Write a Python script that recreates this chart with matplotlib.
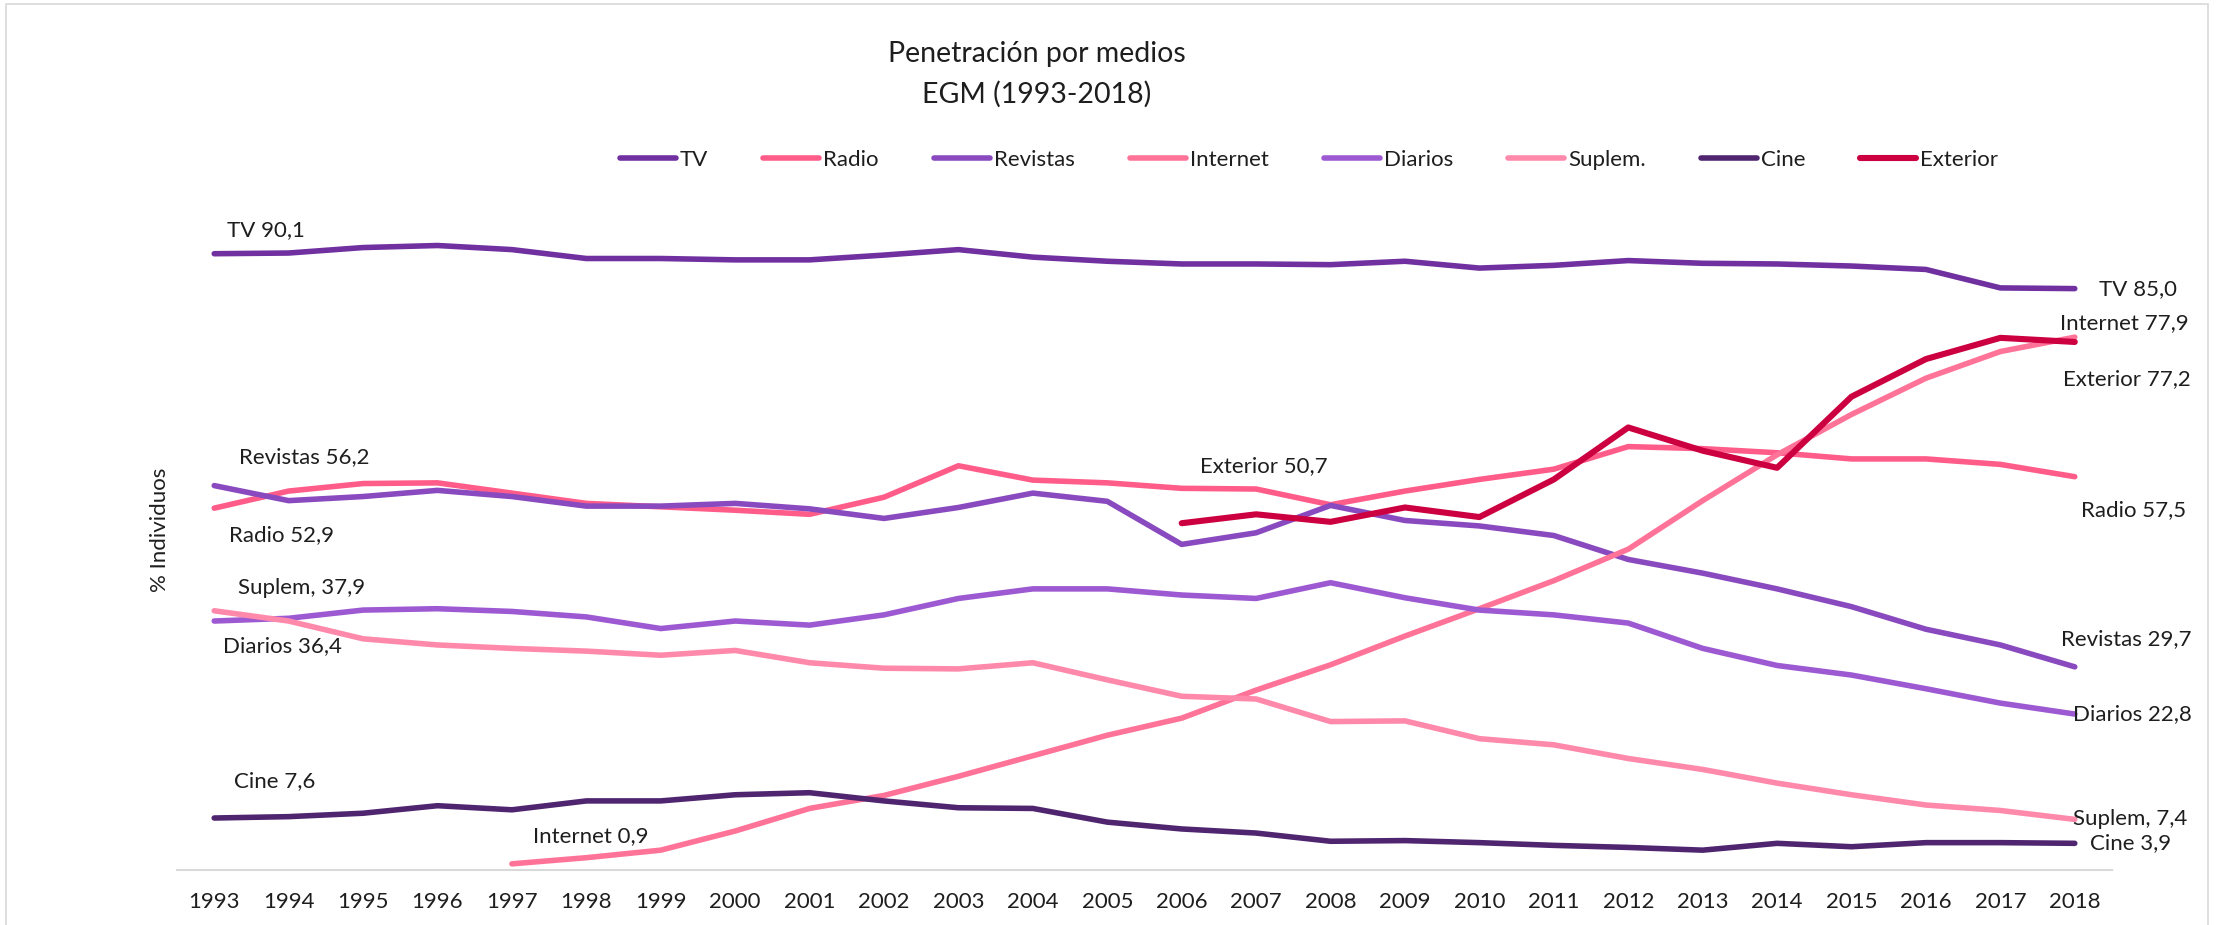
import numpy as np
import matplotlib
matplotlib.use("Agg")
import matplotlib.pyplot as plt
from matplotlib.patches import Rectangle
from matplotlib.lines import Line2D

plt.rcParams['font.family'] = ['Lato', 'DejaVu Sans']

nan = np.nan
years = list(range(1993, 2019))

tv = [90.1, 90.2, 91.0, 91.3, 90.7, 89.4, 89.4, 89.2, 89.2, 89.9, 90.7, 89.6, 89.0,
      88.6, 88.6, 88.5, 89.0, 88.0, 88.4, 89.1, 88.7, 88.6, 88.3, 87.8, 85.1, 85.0]
radio = [52.9, 55.4, 56.5, 56.6, 55.1, 53.6, 53.1, 52.6, 52.0, 54.5, 59.1, 57.0, 56.6,
         55.8, 55.7, 53.4, 55.4, 57.1, 58.6, 61.9, 61.6, 61.0, 60.1, 60.1, 59.3, 57.5]
revistas = [56.2, 54.0, 54.6, 55.5, 54.6, 53.2, 53.2, 53.6, 52.8, 51.4, 53.0, 55.1, 53.9,
            47.6, 49.3, 53.3, 51.1, 50.3, 48.9, 45.4, 43.4, 41.1, 38.5, 35.2, 32.9, 29.7]
internet = [nan, nan, nan, nan, 0.9, 1.8, 2.9, 5.7, 9.0, 10.9, 13.7, 16.7, 19.7,
            22.2, 26.3, 30.0, 34.2, 38.2, 42.3, 46.9, 54.0, 60.7, 66.6, 71.9, 75.8, 77.9]
diarios = [36.4, 36.8, 38.0, 38.2, 37.8, 37.0, 35.3, 36.4, 35.8, 37.3, 39.7, 41.1, 41.1,
           40.2, 39.7, 42.0, 39.8, 38.0, 37.3, 36.1, 32.4, 29.9, 28.5, 26.5, 24.4, 22.8]
suplem = [37.9, 36.4, 33.8, 32.9, 32.4, 32.0, 31.4, 32.1, 30.3, 29.5, 29.4, 30.3, 27.8,
          25.4, 25.0, 21.7, 21.8, 19.2, 18.3, 16.3, 14.7, 12.7, 11.0, 9.5, 8.7, 7.4]
cine = [7.6, 7.8, 8.3, 9.4, 8.8, 10.1, 10.1, 11.0, 11.3, 10.1, 9.1, 9.0, 7.0,
        6.0, 5.4, 4.2, 4.3, 4.0, 3.6, 3.3, 2.9, 3.9, 3.4, 4.0, 4.0, 3.9]
exterior = [nan] * 13 + [50.7, 52.0, 50.9, 53.0, 51.6, 57.1, 64.7, 61.3, 58.8, 69.2, 74.7, 77.8, 77.2]

series_names = ["TV", "Radio", "Revistas", "Internet", "Diarios", "Suplem.", "Cine", "Exterior"]
series_values = [tv, radio, revistas, internet, diarios, suplem, cine, exterior]
colors = ["#7030A0", "#FF5C8A", "#8A4ABF", "#FF7399", "#9D59D2", "#FF89AB", "#4F2570", "#CC0040"]
widths = [4.0, 4.0, 4.0, 4.0, 4.0, 4.0, 4.0, 4.4]

# label placement (start label, end label): (x in data units, y in data units)
start_pos = {"TV": (1993.17, 93.6), "Radio": (1993.2, 49.0), "Revistas": (1993.33, 60.3),
             "Internet": (1997.29, 4.9), "Diarios": (1993.12, 32.7), "Suplem.": (1993.32, 41.3),
             "Cine": (1993.26, 13.0), "Exterior": (2006.25, 59.1)}
end_pos = {"TV": (2018.32, 85.0), "Radio": (2018.08, 52.6), "Revistas": (2017.81, 33.8),
           "Internet": (2017.80, 80.0), "Diarios": (2017.97, 22.8), "Suplem.": (2017.97, 7.4),
           "Cine": (2018.2, 3.9), "Exterior": (2017.84, 71.7)}

W, H = 2216, 925
fig = plt.figure(figsize=(W / 100, H / 100), dpi=100)
ax = fig.add_axes([177 / W, 1 - 870 / H, (2112 - 177) / W, (870 - 186) / H])

txt_color = "#1e1e1e"
fs = 16

for name, vals, c, lw in zip(series_names, series_values, colors, widths):
    v = np.array(vals, dtype=float)
    ax.plot(years, v, color=c, lw=lw, solid_capstyle='round', solid_joinstyle='round', label=name)
    idx = np.where(~np.isnan(v))[0]
    first, last = v[idx[0]], v[idx[-1]]
    sx, sy = start_pos[name]
    ex, ey = end_pos[name]
    ax.text(sx, sy, f"{name} {first:.1f}".replace('.', ','), ha='left', va='center',
            fontsize=fs, color=txt_color)
    ax.text(ex, ey, f"{name} {last:.1f}".replace('.', ','), ha='left', va='center',
            fontsize=fs, color=txt_color, clip_on=False)

ax.set_xlim(1992.5, 2018.5)
ax.set_ylim(0, 100)
ax.set_xticks(years)
ax.set_xticklabels([str(y) for y in years], fontsize=fs, color=txt_color)
ax.tick_params(axis='x', length=0, pad=16)
ax.set_yticks([])
for s in ['top', 'right', 'left']:
    ax.spines[s].set_visible(False)
ax.spines['bottom'].set_color('#D9D9D9')
ax.spines['bottom'].set_linewidth(1.5)

fig.text(160 / W, 1 - 530 / H, "% Individuos", rotation=90, ha='center', va='center',
         fontsize=fs, color=txt_color)

fig.text(1037 / W, 1 - 54 / H, "Penetración por medios", ha='center', va='center',
         fontsize=20.5, color=txt_color)
fig.text(1037 / W, 1 - 94 / H, "EGM (1993-2018)", ha='center', va='center',
         fontsize=20.5, color=txt_color)

handles = [Line2D([0], [0], color=c, lw=lw, solid_capstyle='round') for c, lw in zip(colors, widths)]
fpx = fs * 100 / 72
fig.legend(handles, series_names, loc='center left', bbox_to_anchor=(620 / W, 1 - 160 / H),
           ncol=8, frameon=False, fontsize=fs, handlelength=56 / fpx, handletextpad=4 / fpx,
           columnspacing=55 / fpx, borderpad=0, borderaxespad=0, labelcolor=txt_color)

fig.patches.append(Rectangle((6 / W, -0.02), (2208 - 6) / W, 1.02 - 4 / H, transform=fig.transFigure,
                             fill=False, edgecolor='#D9D9D9', linewidth=1.2))

fig.savefig("out.png", dpi=100)
